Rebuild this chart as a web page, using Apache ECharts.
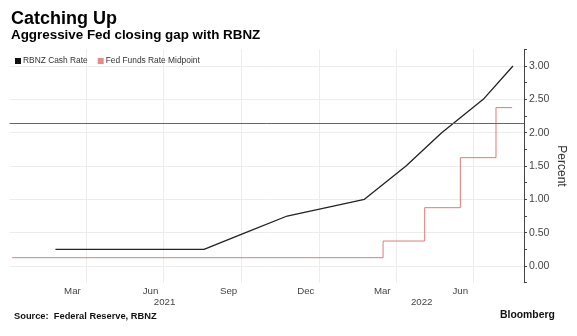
<!DOCTYPE html>
<html>
<head>
<meta charset="utf-8">
<title>Catching Up</title>
<script src="https://cdn.jsdelivr.net/npm/echarts@6/dist/echarts.min.js"></script>
<style>
  html, body { margin: 0; padding: 0; background: #ffffff; }
  #chart { width: 577px; height: 336px; }
</style>
</head>
<body>
<div id="chart"></div>
<script>
// RBNZ official cash rate at each policy decision (%)
const rbnzDates = ['2021-02-24', '2021-08-18', '2021-10-06', '2021-11-24', '2022-02-23',
                   '2022-04-13', '2022-05-25', '2022-07-13', '2022-08-17'];
const rbnzRates = [0.25, 0.25, 0.5, 0.75, 1.0, 1.5, 2.0, 2.5, 3.0];

// Fed funds target range midpoint, held until the next change (%)
const fedDates = ['2021-01-04', '2022-03-17', '2022-05-05', '2022-06-16', '2022-07-28', '2022-08-16'];
const fedMidpoint = [0.125, 0.375, 0.875, 1.625, 2.375, 2.375];

// Labelled percent ticks and labelled months
const yTickLabels = [0, 0.5, 1, 1.5, 2, 2.5, 3];
const monthNames = ['Jan', 'Feb', 'Mar', 'Apr', 'May', 'Jun', 'Jul', 'Aug', 'Sep', 'Oct', 'Nov', 'Dec'];
const labelledMonths = ['Mar', 'Jun', 'Sep', 'Dec'];

// Horizontal reference level (%)
const referenceLevel = 2.14;

const axisStart = new Date(2021, 0, 1).getTime();
const axisEnd = new Date(2022, 7, 30).getTime();

function dateValue(s) {
  const p = s.split('-').map(Number);
  return new Date(p[0], p[1] - 1, p[2]).getTime();
}
function toPairs(dates, values) {
  return dates.map((d, i) => [dateValue(d), values[i]]);
}

// Month labels sit mid-month; grid lines at the start of each quarter
const monthLabelValues = [];
const quarterLineValues = [];
for (let y = 2021; y <= 2022; y++) {
  for (let m = 0; m < 12; m++) {
    const mid = new Date(y, m, 16).getTime();
    if (labelledMonths.indexOf(monthNames[m]) >= 0 && mid > axisStart && mid < axisEnd) {
      monthLabelValues.push(mid);
    }
    const first = new Date(y, m, 1).getTime();
    if (m % 3 === 0 && first > axisStart && first < axisEnd) {
      quarterLineValues.push(first);
    }
  }
}
// Year labels centred on the visible part of each year
const yearLabelValues = [2021, 2022].map(y => {
  const a = Math.max(new Date(y, 0, 1).getTime(), axisStart);
  const b = Math.min(new Date(y + 1, 0, 1).getTime(), axisEnd);
  return (a + b) / 2;
});

const FONT = 'Liberation Sans';
const chart = echarts.init(document.getElementById('chart'), null, { renderer: 'canvas' });

chart.setOption({
  backgroundColor: '#ffffff',
  animation: false,
  textStyle: { fontFamily: FONT },
  grid: { left: 9.6, right: 53, top: 49.3, bottom: 53.3, outerBoundsMode: 'none', containLabel: false },
  legend: {
    left: 10,
    top: 52,
    icon: 'rect',
    itemWidth: 6,
    itemHeight: 6,
    itemGap: 10,
    textStyle: { fontFamily: FONT, fontSize: 8.4, color: '#333', padding: [0, 0, 0, -3] },
    data: ['RBNZ Cash Rate', 'Fed Funds Rate Midpoint']
  },
  graphic: [
    { type: 'text', left: 11, top: 10, style: { text: 'Catching Up', fontFamily: FONT, fontWeight: 'bold', fontSize: 18, fill: '#000' } },
    { type: 'text', left: 11, top: 29, style: { text: 'Aggressive Fed closing gap with RBNZ', fontFamily: FONT, fontWeight: 'bold', fontSize: 13.4, fill: '#000' } },
    { type: 'text', left: 14, top: 312, style: { text: 'Source:  Federal Reserve, RBNZ', fontFamily: FONT, fontWeight: 'bold', fontSize: 9.3, fill: '#111' } },
    { type: 'text', left: 500, top: 310, style: { text: 'Bloomberg', fontFamily: FONT, fontWeight: 'bold', fontSize: 10.4, fill: '#111' } }
  ],
  xAxis: [
    {
      type: 'value',
      min: axisStart,
      max: axisEnd,
      axisLine: { show: false },
      axisTick: { show: false, customValues: quarterLineValues },
      splitLine: { show: true, lineStyle: { color: '#ececec', width: 1 } },
      axisLabel: {
        customValues: monthLabelValues,
        margin: 4,
        fontFamily: FONT,
        fontSize: 9.7,
        color: '#444',
        formatter: v => monthNames[new Date(v).getMonth()]
      }
    },
    {
      type: 'value',
      position: 'bottom',
      offset: 11,
      min: axisStart,
      max: axisEnd,
      axisLine: { show: false },
      axisTick: { show: false },
      splitLine: { show: false },
      axisLabel: {
        customValues: yearLabelValues,
        margin: 4,
        fontFamily: FONT,
        fontSize: 9.7,
        color: '#444',
        formatter: v => String(new Date(v).getFullYear())
      }
    }
  ],
  yAxis: {
    type: 'value',
    position: 'right',
    min: -0.25,
    max: 3.25,
    interval: 0.25,
    name: 'Percent',
    nameLocation: 'middle',
    nameRotate: -90,
    nameGap: 31,
    nameMoveOverlap: false,
    nameTextStyle: { fontFamily: FONT, fontSize: 12, color: '#333' },
    axisLine: { show: true, lineStyle: { color: '#444', width: 1 } },
    axisTick: { show: true, inside: false, length: 3, lineStyle: { color: '#444' } },
    splitLine: { show: true, showMaxLine: false, lineStyle: { color: ['rgba(0,0,0,0)', '#ececec'], width: 1 } },
    axisLabel: {
      margin: 5,
      fontFamily: FONT,
      fontSize: 10.5,
      color: '#444',
      formatter: v => (yTickLabels.some(t => Math.abs(t - v) < 1e-9) ? v.toFixed(2) : '')
    }
  },
  series: [
    {
      name: 'RBNZ Cash Rate',
      type: 'line',
      data: toPairs(rbnzDates, rbnzRates),
      showSymbol: false,
      symbol: 'none',
      itemStyle: { color: '#111' },
      lineStyle: { color: '#222', width: 1.3 },
      z: 3,
      markLine: {
        silent: true,
        symbol: 'none',
        label: { show: false },
        lineStyle: { color: '#666', width: 1, type: 'solid' },
        data: [{ yAxis: referenceLevel }]
      }
    },
    {
      name: 'Fed Funds Rate Midpoint',
      type: 'line',
      step: 'end',
      data: toPairs(fedDates, fedMidpoint),
      showSymbol: false,
      symbol: 'none',
      itemStyle: { color: '#e88a8a' },
      lineStyle: { color: '#e07a7a', width: 1 },
      z: 2
    }
  ]
});
</script>
</body>
</html>
